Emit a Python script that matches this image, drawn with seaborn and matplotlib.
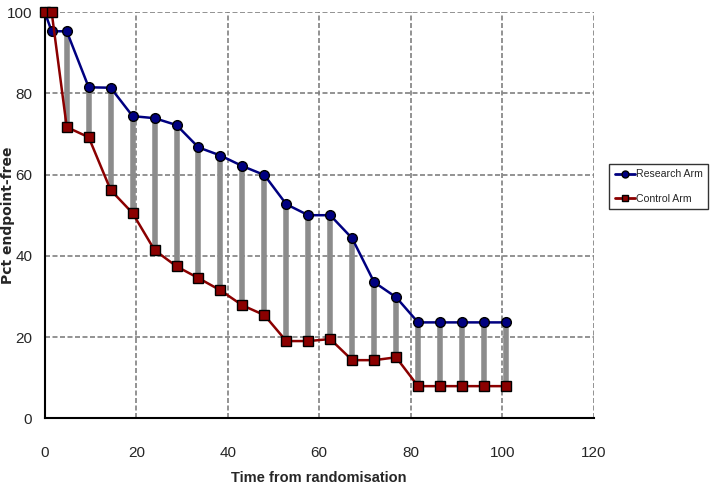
import matplotlib
matplotlib.use("Agg")
import matplotlib.pyplot as plt
from matplotlib.lines import Line2D
from matplotlib.ticker import MultipleLocator
import pandas as pd
import seaborn as sns

# values
time = [0, 1.5, 4.8, 9.6, 14.4, 19.2, 24.0, 28.8, 33.6, 38.4, 43.2, 48.0,
        52.8, 57.6, 62.4, 67.2, 72.0, 76.8, 81.6, 86.4, 91.2, 96.0, 100.8]
research = [100, 95.3, 95.3, 81.5, 81.4, 74.4, 73.9, 72.2, 66.7, 64.7, 62.1, 59.9,
            52.7, 50.0, 50.0, 44.3, 33.5, 29.8, 23.6, 23.6, 23.6, 23.6, 23.6]
control = [100, 100, 71.7, 69.2, 56.2, 50.5, 41.4, 37.4, 34.5, 31.5, 27.8, 25.4,
           19.0, 19.0, 19.5, 14.3, 14.3, 15.0, 7.9, 7.9, 7.9, 7.9, 7.9]
arms = ["Research Arm", "Control Arm"]

df = pd.DataFrame({
    "time": time * 2,
    "pct": research + control,
    "arm": [arms[0]] * len(time) + [arms[1]] * len(time),
})

sns.set_style("white")
plt.rcParams["font.family"] = ["Liberation Sans", "DejaVu Sans"]

fig = plt.figure(figsize=(7.11, 4.88), dpi=100)
ax = fig.add_axes([0.063, 0.143, 0.772, 0.832])

# grey connectors between the two arms
ax.vlines(time[2:], control[2:], research[2:], color="#8c8c8c", lw=4, zorder=1)

palette = {arms[0]: "#000080", arms[1]: "#8b0000"}
sns.lineplot(data=df, x="time", y="pct", hue="arm", style="arm",
             palette=palette, markers={arms[0]: "o", arms[1]: "s"},
             dashes=False, markersize=7, markeredgecolor="black",
             markeredgewidth=1.0, linewidth=1.8, ax=ax, zorder=3,
             clip_on=False, legend=False)

ax.set_xlim(0, 120)
ax.set_ylim(0, 100)
ax.xaxis.set_major_locator(MultipleLocator(20))
ax.xaxis.set_minor_locator(MultipleLocator(4))
ax.yaxis.set_major_locator(MultipleLocator(20))
ax.yaxis.set_minor_locator(MultipleLocator(5))
ax.grid(True, which="major", ls=(0, (3, 1.5)), color="#808080", lw=1.2)
ax.set_axisbelow(True)

for s in ["top", "right"]:
    ax.spines[s].set_visible(False)
for s in ["left", "bottom"]:
    ax.spines[s].set_color("black")
    ax.spines[s].set_linewidth(1.5)

ax.tick_params(axis="both", which="major", direction="inout", length=8,
               width=1.5, color="black", labelsize=11)
ax.tick_params(axis="both", which="minor", direction="in", length=5,
               width=1.5, color="black")
ax.tick_params(axis="x", which="major", pad=16)
ax.tick_params(axis="y", which="major", pad=5)

ax.set_xlabel("Time from randomisation", fontsize=10.5, fontweight="bold",
              labelpad=8)
ax.set_ylabel("Pct endpoint-free", fontsize=10, fontweight="bold",
              family="DejaVu Sans")
ax.yaxis.set_label_coords(-0.054, 0.5)

handles = [
    Line2D([], [], color=palette[arms[0]], marker="o", markersize=5,
           markeredgecolor="black", lw=2),
    Line2D([], [], color=palette[arms[1]], marker="s", markersize=4.5,
           markeredgecolor="black", lw=2),
]
leg = fig.legend(handles, arms, loc="upper left", bbox_to_anchor=(0.857, 0.664),
                 frameon=True, fancybox=False, edgecolor="black",
                 handlelength=1.9, handletextpad=0.15, borderpad=0.5,
                 labelspacing=1.4, borderaxespad=0,
                 prop={"family": "Liberation Sans", "size": 7.6})
leg.get_frame().set_linewidth(1.0)

fig.savefig("out.png", dpi=100)
